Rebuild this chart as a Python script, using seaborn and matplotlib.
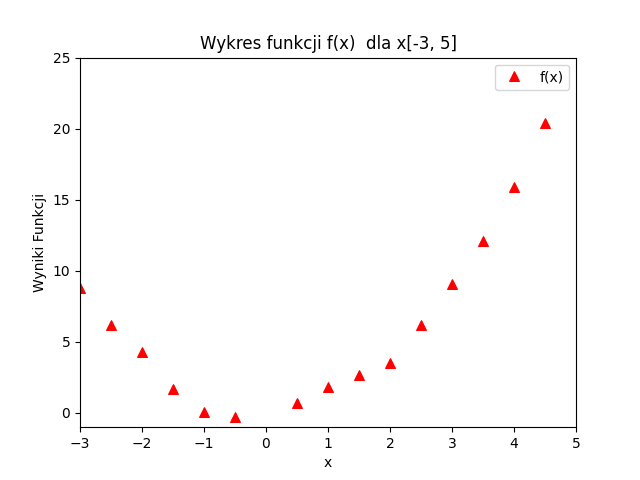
import matplotlib
matplotlib.use("Agg")
import matplotlib.pyplot as plt
import seaborn as sbn

x_vals = [-3, -2.5, -2, -1.5, -1, -0.5, 0.5, 1, 1.5, 2, 2.5, 3, 3.5, 4, 4.5]
y_vals = [8.8, 6.2, 4.3, 1.7, 0.1, -0.25, 0.7, 1.8, 2.7, 3.5, 6.2, 9.1, 12.1, 15.9, 20.4]

fig, ax = plt.subplots(figsize=(6.4, 4.8), dpi=100)
sbn.lineplot(x=x_vals, y=y_vals, ax=ax, marker="^", linestyle="", color="red",
             markeredgecolor="red", markersize=7, label="f(x)")
ax.set_xlim(-3, 5)
ax.set_ylim(-1, 25)
ax.set_title("Wykres funkcji f(x)  dla x[-3, 5]")
ax.set_xlabel("x")
ax.set_ylabel("Wyniki Funkcji")
ax.legend(loc="upper right")
fig.savefig("out.png")
